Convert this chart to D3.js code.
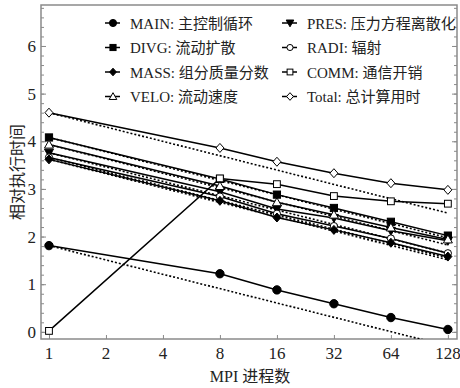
<!DOCTYPE html>
<html>
<head>
    <meta charset="utf-8">
    <script src="https://d3js.org/d3.v7.min.js"></script>
    <style>
        body { margin: 0; background: #fff; }
        text { font-family: "Liberation Serif", "Noto Sans CJK SC", serif; fill: #222; }
    </style>
</head>
<body>
    <svg width="460" height="388"></svg>

    <script>
        // MPI process counts (x) and relative execution time (y)
        const procs = [1, 2, 4, 8, 16, 32, 64, 128];
        const xPoints = [1, 8, 16, 32, 64, 128];

        const mainVals  = [1.81, 1.22, 0.88, 0.59, 0.30, 0.05];
        const presVals  = [3.76, 2.94, 2.58, 2.39, 2.12, 1.91];
        const divgVals  = [4.08, 3.21, 2.88, 2.60, 2.31, 2.02];
        const radiVals  = [3.66, 2.84, 2.48, 2.22, 1.96, 1.65];
        const massVals  = [3.62, 2.75, 2.40, 2.14, 1.87, 1.58];
        const commVals  = [0.02, 3.22, 3.10, 2.85, 2.74, 2.69];
        const veloVals  = [3.93, 3.06, 2.72, 2.46, 2.19, 1.94];
        const totalVals = [4.60, 3.86, 3.57, 3.33, 3.12, 2.98];

        const series = [
            { name: "MAIN: 主控制循环",   sym: "circle",   fill: "#000", vals: mainVals,  ideal: true },
            { name: "PRES: 压力方程离散化", sym: "tridown",  fill: "#000", vals: presVals,  ideal: true },
            { name: "DIVG: 流动扩散",     sym: "square",   fill: "#000", vals: divgVals,  ideal: true },
            { name: "RADI: 辐射",         sym: "circle",   fill: "#fff", vals: radiVals,  ideal: true },
            { name: "MASS: 组分质量分数",  sym: "diamond",  fill: "#000", vals: massVals,  ideal: true },
            { name: "COMM: 通信开销",     sym: "square",   fill: "#fff", vals: commVals,  ideal: false },
            { name: "VELO: 流动速度",     sym: "triangle", fill: "#fff", vals: veloVals,  ideal: true },
            { name: "Total: 总计算用时",   sym: "diamond",  fill: "#fff", vals: totalVals, ideal: true }
        ];

        const yTicks = [0, 1, 2, 3, 4, 5, 6];

        const svg = d3.select("svg");
        const pLeft = 41, pRight = 457, pTop = 5, pBottom = 339;

        const x = d3.scaleLog().base(2)
            .domain([Math.pow(2, -0.14), Math.pow(2, 7.16)])
            .range([pLeft, pRight]);
        const y = d3.scaleLinear().domain([-0.15, 6.86]).range([pBottom, pTop]);

        const axisColor = "#8a8a8a";

        // clip for ideal lines
        svg.append("clipPath").attr("id", "plot")
            .append("rect").attr("x", pLeft).attr("y", pTop)
            .attr("width", pRight - pLeft).attr("height", pBottom - pTop);

        // axes with inward ticks
        const minor = d3.range(0, 6.81, 0.2);
        svg.append("g").attr("transform", `translate(${pLeft},0)`)
            .call(d3.axisRight(y).tickValues(minor).tickSize(3).tickFormat(""))
            .call(g => g.select(".domain").remove());
        svg.append("g").attr("transform", `translate(${pLeft},0)`)
            .call(d3.axisRight(y).tickValues(yTicks).tickSize(5).tickFormat(""))
            .call(g => g.select(".domain").remove());
        svg.append("g").attr("transform", `translate(${pRight},0)`)
            .call(d3.axisLeft(y).tickValues(minor).tickSize(3).tickFormat(""))
            .call(g => g.select(".domain").remove());
        svg.append("g").attr("transform", `translate(${pRight},0)`)
            .call(d3.axisLeft(y).tickValues(yTicks).tickSize(5).tickFormat(""))
            .call(g => g.select(".domain").remove());
        svg.append("g").attr("transform", `translate(0,${pBottom})`)
            .call(d3.axisTop(x).tickValues(procs).tickSize(4).tickFormat(""))
            .call(g => g.select(".domain").remove());
        svg.selectAll(".tick line").attr("stroke", axisColor);

        svg.append("rect")
            .attr("x", pLeft).attr("y", pTop)
            .attr("width", pRight - pLeft).attr("height", pBottom - pTop)
            .attr("fill", "none").attr("stroke", axisColor).attr("stroke-width", 1.5);

        // tick labels
        svg.selectAll(".ylab").data(yTicks).enter().append("text")
            .attr("x", pLeft - 5).attr("y", d => y(d) + 6)
            .attr("text-anchor", "end").attr("font-size", 17)
            .text(d => d);
        svg.selectAll(".xlab").data(procs).enter().append("text")
            .attr("x", d => x(d)).attr("y", pBottom + 20)
            .attr("text-anchor", "middle").attr("font-size", 17)
            .text(d => d);

        svg.append("text")
            .attr("x", 250).attr("y", 382)
            .attr("text-anchor", "middle").attr("font-size", 16)
            .text("MPI 进程数");
        svg.append("text")
            .attr("transform", `translate(23,${(pTop + pBottom) / 2}) rotate(-90)`)
            .attr("text-anchor", "middle").attr("font-size", 16)
            .text("相对执行时间");

        // ideal scaling: halving per doubling (log10 scale)
        const step = Math.log10(2);
        const plotG = svg.append("g");
        plotG.selectAll(".ideal").data(series.filter(s => s.ideal)).enter().append("line")
            .attr("clip-path", "url(#plot)")
            .attr("x1", x(1)).attr("y1", s => y(s.vals[0]))
            .attr("x2", x(128)).attr("y2", s => y(s.vals[0] - 7 * step))
            .attr("stroke", "#000").attr("stroke-width", 1.6)
            .attr("stroke-dasharray", "2,2");

        const line = d3.line().x((d, i) => x(xPoints[i])).y(d => y(d));
        plotG.selectAll(".ser").data(series).enter().append("path")
            .attr("d", s => line(s.vals))
            .attr("fill", "none").attr("stroke", "#000").attr("stroke-width", 1.5);

        function marker(g, s, cx, cy, k) {
            let el;
            if (s.sym === "circle") {
                el = g.append("circle").attr("cx", cx).attr("cy", cy).attr("r", (s.fill === "#000" ? 4.2 : 3.6) * k);
            } else if (s.sym === "square") {
                const r = (s.fill === "#000" ? 3.6 : 3.4) * k;
                el = g.append("rect").attr("x", cx - r).attr("y", cy - r).attr("width", 2 * r).attr("height", 2 * r);
            } else if (s.sym === "diamond") {
                el = g.append("path").attr("d", `M${cx},${cy - 4.5 * k}L${cx + 4 * k},${cy}L${cx},${cy + 4.5 * k}L${cx - 4 * k},${cy}Z`);
            } else if (s.sym === "triangle") {
                el = g.append("path").attr("d", `M${cx},${cy - 4.5 * k}L${cx + 4.5 * k},${cy + 3.5 * k}L${cx - 4.5 * k},${cy + 3.5 * k}Z`);
            } else {
                el = g.append("path").attr("d", `M${cx},${cy + 4.5 * k}L${cx + 4.5 * k},${cy - 3.5 * k}L${cx - 4.5 * k},${cy - 3.5 * k}Z`);
            }
            el.attr("fill", s.fill).attr("stroke", "#000").attr("stroke-width", 1);
        }

        series.forEach(s => {
            s.vals.forEach((v, i) => marker(plotG, s, x(xPoints[i]), y(v), 1));
        });

        // legend, two columns
        const leg = svg.append("g");
        series.forEach((s, i) => {
            const col = i % 2, row = Math.floor(i / 2);
            const lx = col === 0 ? 105 : 282;
            const ly = 23 + row * 24.5;
            leg.append("line").attr("x1", lx).attr("x2", lx + 15)
                .attr("y1", ly).attr("y2", ly).attr("stroke", "#000").attr("stroke-width", 1.5);
            marker(leg, s, lx + 8, ly, 0.85);
            leg.append("text").attr("x", lx + 25).attr("y", ly + 5.5)
                .attr("font-size", 15).text(s.name);
        });
    </script>
</body>
</html>
